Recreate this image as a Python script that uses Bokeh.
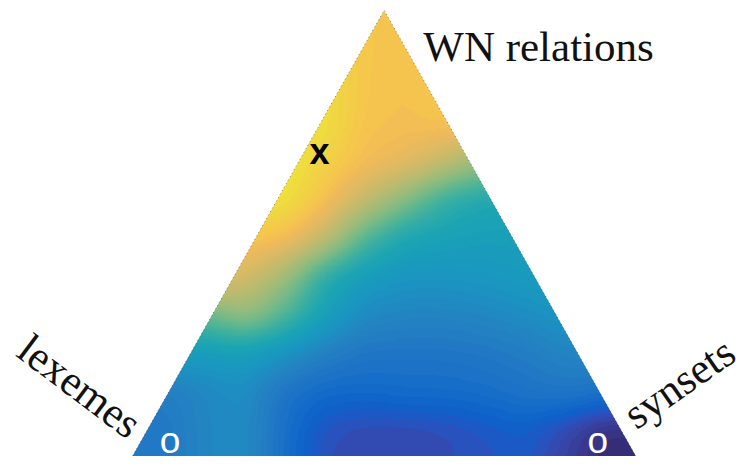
import numpy as np
from bokeh.plotting import figure
from bokeh.models import Range1d, LinearColorMapper, ColumnDataSource
from bokeh.core.properties import value
from bokeh.embed import file_html
from bokeh.resources import INLINE

# ---------------- data ----------------
vertex_labels = ["lexemes", "synsets", "WN relations"]

# field sampled on a cartesian grid inside the ternary plane
# u: position along base (lexemes -> synsets), v: WN relations share
grid_u = [0.000, 0.077, 0.154, 0.231, 0.308, 0.385, 0.462, 0.538, 0.615, 0.692, 0.769, 0.846, 0.923, 1.000]
grid_v = [0.000, 0.083, 0.167, 0.250, 0.333, 0.417, 0.500, 0.583, 0.667, 0.750, 0.833, 0.917, 1.000]

field_rows = [
    [0.22, 0.22, 0.28, 0.30, 0.18, 0.09, 0.08, 0.08, 0.09, 0.10, 0.12, 0.06, 0.00, 0.00],
    [0.22, 0.22, 0.28, 0.30, 0.18, 0.10, 0.08, 0.08, 0.09, 0.11, 0.13, 0.08, 0.01, 0.01],
    [0.24, 0.24, 0.28, 0.31, 0.20, 0.16, 0.16, 0.17, 0.17, 0.18, 0.20, 0.22, 0.20, 0.20],
    [0.36, 0.36, 0.36, 0.37, 0.32, 0.25, 0.21, 0.21, 0.21, 0.22, 0.24, 0.27, 0.28, 0.28],
    [0.55, 0.55, 0.55, 0.64, 0.52, 0.38, 0.29, 0.27, 0.27, 0.28, 0.30, 0.33, 0.33, 0.33],
    [0.80, 0.80, 0.80, 0.76, 0.65, 0.45, 0.36, 0.33, 0.33, 0.34, 0.36, 0.37, 0.37, 0.37],
    [0.86, 0.86, 0.86, 0.86, 0.83, 0.72, 0.52, 0.41, 0.39, 0.38, 0.38, 0.38, 0.38, 0.38],
    [0.96, 0.96, 0.96, 0.96, 0.95, 0.84, 0.72, 0.60, 0.47, 0.42, 0.42, 0.42, 0.42, 0.42],
    [0.96, 0.96, 0.96, 0.96, 0.96, 0.90, 0.83, 0.80, 0.72, 0.62, 0.62, 0.62, 0.62, 0.62],
    [0.95, 0.95, 0.95, 0.95, 0.95, 0.94, 0.85, 0.84, 0.85, 0.85, 0.85, 0.85, 0.85, 0.85],
    [0.94, 0.94, 0.94, 0.94, 0.94, 0.93, 0.86, 0.84, 0.87, 0.88, 0.88, 0.88, 0.88, 0.88],
    [0.92, 0.92, 0.92, 0.92, 0.92, 0.92, 0.86, 0.85, 0.88, 0.88, 0.88, 0.88, 0.88, 0.88],
    [0.88, 0.88, 0.88, 0.88, 0.88, 0.88, 0.86, 0.86, 0.88, 0.88, 0.88, 0.88, 0.88, 0.88],
]

# marked points (ternary fractions: lexemes, synsets, WN relations)
mark_lexemes = [0.282, 0.887, 0.061]
mark_synsets = [0.032, 0.059, 0.885]
mark_wn      = [0.686, 0.055, 0.055]
mark_symbol  = ["x", "o", "o"]

# ---------------- style: parula palette (slightly muted, as printed) ----------------
_parula = [
    [0.2081, 0.1663, 0.5292], [0.2116, 0.1898, 0.5777], [0.2123, 0.2138, 0.6270], [0.2081, 0.2386, 0.6771],
    [0.1959, 0.2645, 0.7279], [0.1707, 0.2919, 0.7792], [0.1253, 0.3242, 0.8303], [0.0591, 0.3598, 0.8683],
    [0.0117, 0.3875, 0.8820], [0.0060, 0.4086, 0.8828], [0.0165, 0.4266, 0.8786], [0.0329, 0.4430, 0.8720],
    [0.0498, 0.4586, 0.8641], [0.0629, 0.4737, 0.8554], [0.0723, 0.4887, 0.8467], [0.0779, 0.5040, 0.8384],
    [0.0793, 0.5200, 0.8312], [0.0749, 0.5375, 0.8263], [0.0641, 0.5570, 0.8240], [0.0488, 0.5772, 0.8228],
    [0.0343, 0.5966, 0.8199], [0.0265, 0.6137, 0.8135], [0.0239, 0.6287, 0.8038], [0.0231, 0.6418, 0.7913],
    [0.0228, 0.6535, 0.7768], [0.0267, 0.6642, 0.7607], [0.0384, 0.6743, 0.7436], [0.0590, 0.6838, 0.7254],
    [0.0843, 0.6928, 0.7062], [0.1133, 0.7015, 0.6859], [0.1453, 0.7098, 0.6646], [0.1801, 0.7177, 0.6424],
    [0.2178, 0.7250, 0.6193], [0.2586, 0.7317, 0.5954], [0.3022, 0.7376, 0.5712], [0.3482, 0.7424, 0.5473],
    [0.3953, 0.7459, 0.5244], [0.4420, 0.7481, 0.5033], [0.4871, 0.7491, 0.4840], [0.5300, 0.7491, 0.4661],
    [0.5709, 0.7485, 0.4494], [0.6099, 0.7473, 0.4337], [0.6473, 0.7456, 0.4188], [0.6834, 0.7435, 0.4044],
    [0.7184, 0.7411, 0.3905], [0.7525, 0.7384, 0.3768], [0.7858, 0.7356, 0.3633], [0.8185, 0.7327, 0.3498],
    [0.8507, 0.7299, 0.3360], [0.8824, 0.7274, 0.3217], [0.9139, 0.7258, 0.3063], [0.9450, 0.7261, 0.2886],
    [0.9739, 0.7314, 0.2666], [0.9938, 0.7455, 0.2403], [0.9990, 0.7653, 0.2164], [0.9955, 0.7861, 0.1967],
    [0.9880, 0.8066, 0.1794], [0.9789, 0.8271, 0.1633], [0.9697, 0.8481, 0.1475], [0.9626, 0.8705, 0.1309],
    [0.9589, 0.8949, 0.1132], [0.9598, 0.9218, 0.0948], [0.9661, 0.9514, 0.0755], [0.9763, 0.9831, 0.0538],
]

def _muted(rgb, s=0.17):
    lum = 0.3 * rgb[0] + 0.59 * rgb[1] + 0.11 * rgb[2]
    return [c * (1 - s) + lum * s for c in rgb]

parula = ["#%02x%02x%02x" % tuple(int(round(min(1, max(0, c)) * 255)) for c in _muted(rgb))
          for rgb in _parula]
mapper = LinearColorMapper(palette=parula, low=0.0, high=1.0)

# ---------------- smooth rendering of the sampled field ----------------
field = np.array(field_rows, dtype=float)
NU, NV = 420, 400
fu = np.linspace(0.0, 1.0, NU)
fv = np.linspace(0.0, 1.0, NV)
tmp = np.array([np.interp(fu, grid_u, row) for row in field])          # (13, NU)
img = np.array([np.interp(fv, grid_v, tmp[:, j]) for j in range(NU)]).T  # (NV, NU)

def _blur(a, sigma):
    r = int(3 * sigma)
    k = np.exp(-0.5 * (np.arange(-r, r + 1) / sigma) ** 2)
    k /= k.sum()
    pad = np.pad(a, ((0, 0), (r, r)), mode="edge")
    a = np.array([np.convolve(row, k, mode="valid") for row in pad])
    pad = np.pad(a, ((r, r), (0, 0)), mode="edge")
    a = np.array([np.convolve(col, k, mode="valid") for col in pad.T]).T
    return a

img = _blur(img, 9)

# ---------------- figure ----------------
VMIN, VMAX = 0.0274, 1.0211
p = figure(width=738, height=456,
           x_range=Range1d(-0.2407, 1.1841), y_range=Range1d(VMIN, VMAX),
           x_axis_type=None, y_axis_type=None,
           output_backend="svg", toolbar_location=None, min_border=0)
p.grid.visible = False
p.outline_line_color = None
p.background_fill_color = "white"
p.border_fill_color = "white"

p.image(image=[img], x=0, y=0, dw=1, dh=1, color_mapper=mapper)

# white masks outside the triangle
p.patch([-0.6, -0.6, 0.5, 0.5, -0.05], [-0.1, 1.2, 1.2, 1.0, -0.1],
        fill_color="white", line_color=None)
p.patch([1.6, 1.6, 0.5, 0.5, 1.05], [-0.1, 1.2, 1.2, 1.0, -0.1],
        fill_color="white", line_color=None)
# dotted triangle edges
p.line([-0.05, 0.5, 1.05], [-0.1, 1.0, -0.1], line_color="#222222",
       line_width=1, line_dash="1 3", line_alpha=0.5)

# marked points (text_baseline "middle" sits a little low for lowercase glyphs)
px_per_v = 456.0 / (VMAX - VMIN)
lift = 3.0 / px_per_v
mu = [s + w / 2 for s, w in zip(mark_synsets, mark_wn)]
mv = [w + lift for w in mark_wn]
x_idx = [i for i, s in enumerate(mark_symbol) if s == "x"]
o_idx = [i for i, s in enumerate(mark_symbol) if s == "o"]
xsrc = ColumnDataSource(dict(u=[mu[i] for i in x_idx], v=[mv[i] for i in x_idx],
                             t=[mark_symbol[i] for i in x_idx]))
osrc = ColumnDataSource(dict(u=[mu[i] for i in o_idx], v=[mv[i] for i in o_idx],
                             t=[mark_symbol[i] for i in o_idx]))
p.text(x="u", y="v", text="t", source=xsrc, text_color="black",
       text_font=value("Liberation Sans"), text_font_size="36px",
       text_font_style="bold", text_align="center", text_baseline="middle")
p.text(x="u", y="v", text="t", source=osrc, text_color="white",
       text_font=value("Liberation Sans"), text_font_size="37px",
       text_align="center", text_baseline="middle")

# vertex labels
serif = value("Liberation Serif")
p.text(x=[0.5756], y=[0.920], text=[vertex_labels[2]], text_font=serif,
       text_font_size="43px", text_align="left", text_baseline="middle",
       text_color="#111111")
p.text(x=[-0.0877], y=[0.181], text=[vertex_labels[0]], text_font=serif,
       text_font_size="43px", text_align="center", text_baseline="middle",
       angle=-np.deg2rad(37), text_color="#111111")
p.text(x=[1.0695], y=[0.188], text=[vertex_labels[1]], text_font=serif,
       text_font_size="43px", text_align="center", text_baseline="middle",
       angle=np.deg2rad(35), text_color="#111111")

open("out.html", "w").write(file_html(p, INLINE))
